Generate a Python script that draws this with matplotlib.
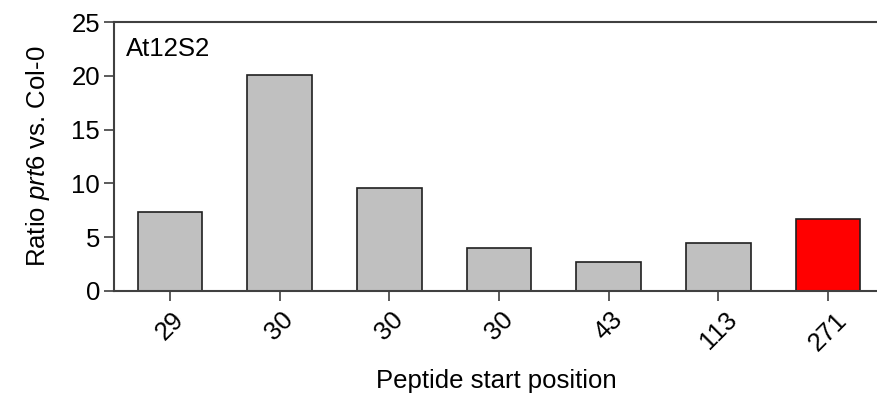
import matplotlib
matplotlib.use("Agg")
import matplotlib.pyplot as plt

categories = ["29", "30", "30", "30", "43", "113", "271"]
values = [7.3, 20.1, 9.6, 4.0, 2.7, 4.45, 6.7]
colors = ["#c0c0c0"] * 6 + ["#ff0000"]

plt.rcParams['font.family'] = ['Liberation Sans', 'DejaVu Sans']
plt.rcParams['mathtext.fontset'] = 'custom'
plt.rcParams['mathtext.rm'] = 'Liberation Sans'
plt.rcParams['mathtext.it'] = 'Liberation Sans:italic'

FS = 18.5

fig = plt.figure(figsize=(8.78, 3.93), dpi=100)
ax = fig.add_axes([114/878, 1 - 291/393, 1 - 114/878, (291 - 22)/393])

x = list(range(len(categories)))
ax.bar(x, values, width=0.59, color=colors, edgecolor="#202020", linewidth=1.2, zorder=2)
ax.set_xlim(-0.51, 6.456)
ax.set_ylim(0, 25)
ax.set_yticks([0, 5, 10, 15, 20, 25])
ax.set_xticks(x)
ax.set_xticklabels(categories, rotation=45, ha='center')
ax.tick_params(axis='both', labelsize=FS, length=7, width=1.2, color="#404040", direction='out')
ax.tick_params(axis='x', pad=5)
ax.tick_params(axis='y', pad=3)
for s in ['left', 'top', 'bottom']:
    ax.spines[s].set_color("#404040")
    ax.spines[s].set_linewidth(1.5)
ax.spines['right'].set_visible(False)

ax.set_ylabel(r'Ratio $\it{prt6}$ vs. Col-0', fontsize=FS, labelpad=14)
ax.set_xlabel('Peptide start position', fontsize=FS, labelpad=10)
ax.text(0.015, 0.945, 'At12S2', transform=ax.transAxes, fontsize=FS, va='top', ha='left')

fig.savefig("out.png", dpi=100)
